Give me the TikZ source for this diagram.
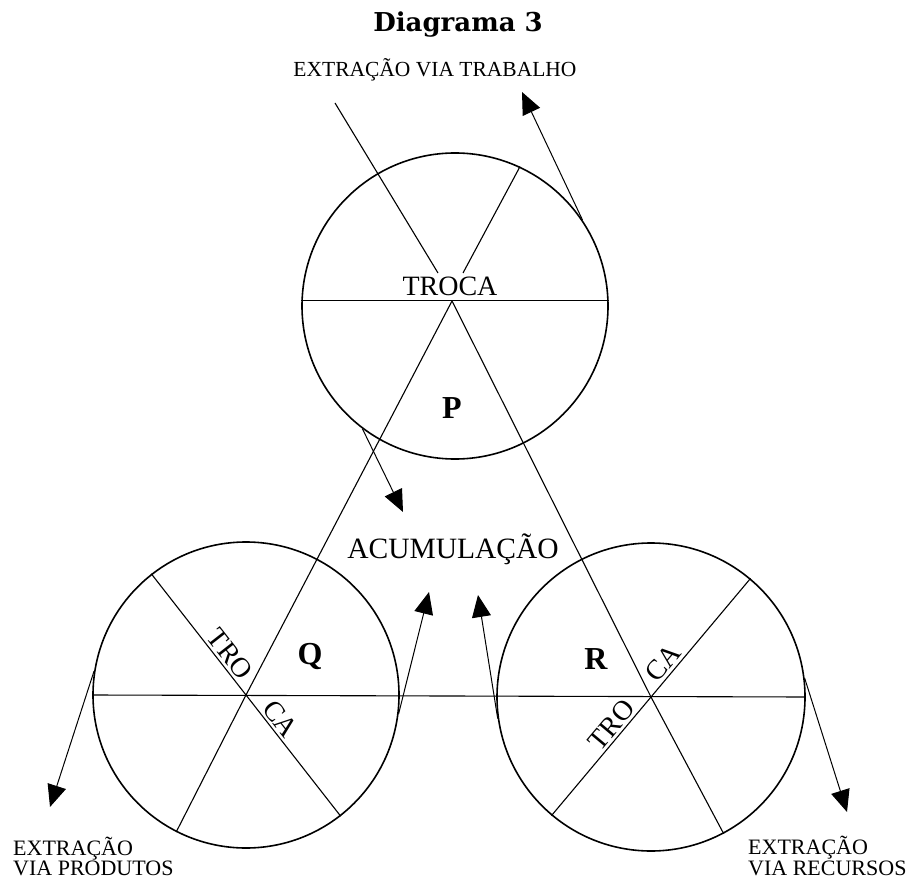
\documentclass[tikz,border=0pt]{standalone}
\usepackage{fontspec}
\setmainfont{Liberation Serif}
\newfontfamily\titlefont{DejaVu Serif}
\usetikzlibrary{arrows.meta,calc}
\begin{document}
\begin{tikzpicture}[x=1pt,y=-1pt,
  circ/.style={circle,draw,line width=1.6pt,inner sep=0pt},
  ln/.style={line width=1.1pt},
  arr/.style={line width=1pt,-{Triangle[length=22pt,width=19pt]}},
  small/.style={font=\fontsize{21.5}{20}\selectfont,inner sep=0pt},
  mid/.style={font=\fontsize{28}{30}\selectfont,inner sep=0pt},
  big/.style={font=\fontsize{32}{34}\selectfont\bfseries,inner sep=0pt},
  seg/.style={font=\fontsize{28}{30}\selectfont,inner sep=3pt,anchor=south}
]
\useasboundingbox (0,0) rectangle (907,882);

% circles
\node[circ,minimum size=306pt] (P) at (455,306) {};
\node[circ,minimum size=306pt] (Q) at (246,695) {};
\node[circ,minimum size=308pt] (R) at (651,697) {};

% coordinates
\coordinate (apex) at (452,301);
\coordinate (tin) at (335,103);
\coordinate (tinend) at (438,273);
\coordinate (tup) at (463,273);
\coordinate (ptr) at (522,92);
\coordinate (pbl) at (403,512);
\coordinate (qlt) at (50,807);
\coordinate (qrt) at (429,592);
\coordinate (rlt) at (478,595);
\coordinate (rrt) at (847,812);

% P lines
\draw[ln] (P.178) -- (P.2);
\draw[ln] (tin) -- (tinend);
\draw[ln] (tup) -- (P.65);

% triangle
\draw[ln] (apex) -- (Q.center) -- (Q.243);
\draw[ln] (apex) -- (R.center) -- (R.298);

% Q and R lines
\draw[ln] (Q.180) -- (R.0);
\draw[ln] (Q.128) -- (Q.-52);
\draw[ln] (R.50) -- (R.230);

% arrows
\draw[arr] (P.34) -- (ptr);
\draw[arr] (P.233) -- (pbl);
\draw[arr] (Q.171) -- (qlt);
\draw[arr] (Q.-7) -- (qrt);
\draw[arr] (R.188) -- (rlt);
\draw[arr] (R.7) -- (rrt);

% texts
\node[font=\titlefont\bfseries\fontsize{26}{28}\selectfont,inner sep=0pt,anchor=base] (title) at (458,32) {Diagrama 3};
\node[small,anchor=base] (trab) at (435,77) {EXTRAÇÃO VIA TRABALHO};
\node[mid,anchor=base] (troca) at (450,296) {TROCA};
\node[big] (pl) at (452,408) {P};
\node[big] (ql) at (310,656) {Q};
\node[big] (rl) at (596,659) {R};
\node[font=\fontsize{29.5}{30}\selectfont,inner sep=0pt,anchor=base] (acum) at (453,558) {ACUMULAÇÃO};

\node[seg,rotate=-52] (qtro) at ($(Q.center)!42pt!(Q.128)$) {TRO};
\node[seg,rotate=-52] (qca) at ($(Q.center)!40pt!(Q.-52)$) {CA};
\node[seg,rotate=50] (rca) at ($(R.center)!34pt!(R.50)$) {CA};
\node[seg,rotate=50] (rtro) at ($(R.center)!47pt!(R.230)$) {TRO};

\node[small,font=\fontsize{22}{20}\selectfont,anchor=base west,align=left] (prod) at (13,875) {EXTRAÇÃO\\VIA PRODUTOS};
\node[small,font=\fontsize{22}{19}\selectfont,anchor=base west,align=left] (recu) at (748,875) {EXTRAÇÃO\\VIA RECURSOS};
\end{tikzpicture}
\end{document}
